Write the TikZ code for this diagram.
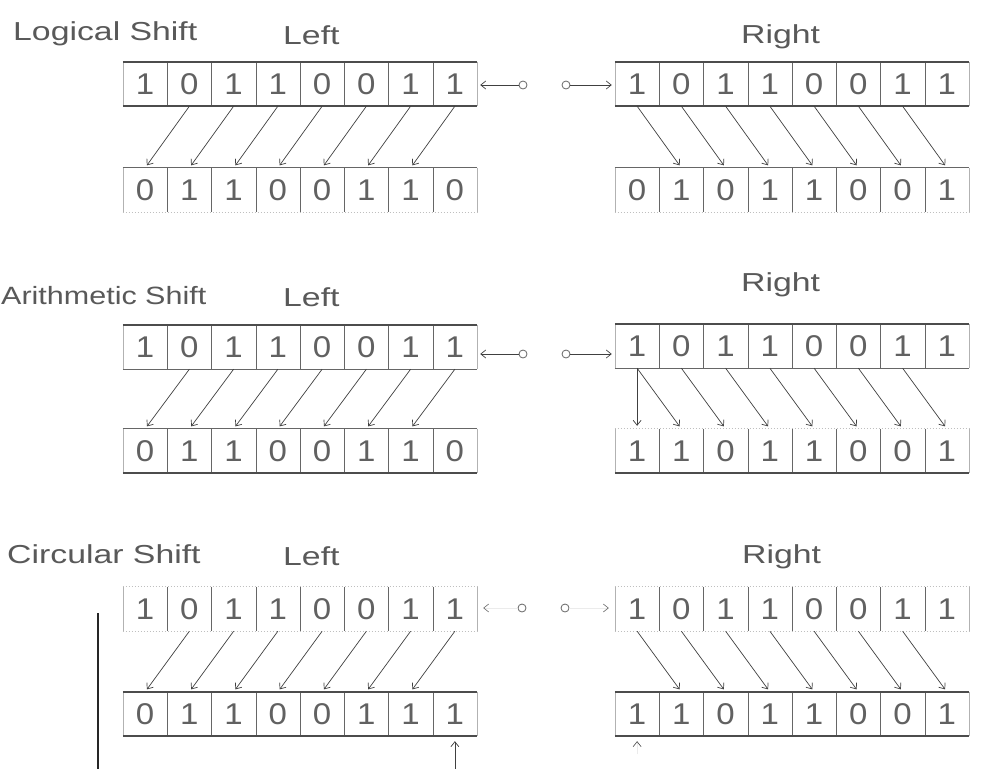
\documentclass[tikz,border=0pt]{standalone}
\usepackage{fontspec}
\setmainfont{Liberation Sans}
\newfontfamily\labfont{Liberation Sans}[FakeStretch=1.3]
\newfontfamily\narrowlabfont{Liberation Sans}[FakeStretch=1.22]
\newfontfamily\digfont{Liberation Sans}[FakeStretch=1.1]
\usetikzlibrary{arrows.meta}

\tikzset{
 cell/.style={minimum width=44.25pt, minimum height=44pt, inner sep=0pt, text=black!62, font=\digfont\fontsize{30}{30}\selectfont},
 lab/.style={anchor=base west, inner sep=0pt, text=black!65, font=\labfont\fontsize{26}{26}\selectfont},
 hthick/.style={draw=black!70, line width=1.6pt},
 hthin/.style={draw=black!60, line width=0.8pt},
 hfaint/.style={draw=black!25, line width=0.7pt, dash pattern=on 1pt off 2pt},
 div/.style={draw=black!60, line width=0.9pt},
 side/.style={draw=black!30, line width=0.6pt},
 arr/.style={draw=black!75, line width=0.7pt, -{Straight Barb[length=5pt,width=8pt]}, shorten >=3pt},
 ghostarr/.style={draw=black!8, line width=0.6pt, -{Straight Barb[length=5pt,width=8pt,color=black!60]}, shorten >=6pt},
 circ/.style={circle, draw=black!60, line width=0.8pt, minimum size=8pt, inner sep=0pt},
}

\newcommand\mkreg[6]{%
 \foreach \d [count=\i] in {#4}{\node[cell] (#1\i) at ({#2+(\i-0.5)*44.25},{#3+22}) {\d};}
 \foreach \i in {1,...,7}{\draw[div] (#1\i.north east) -- (#1\i.south east);}
 \draw[side] (#11.north west) -- (#11.south west);
 \draw[side] (#18.north east) -- (#18.south east);
 \draw[#5] (#11.north west) -- (#18.north east);
 \draw[#6] (#11.south west) -- (#18.south east);
}
\newcommand\shiftL[2]{\foreach \i in {1,...,7}{\pgfmathtruncatemacro\j{\i+1}\draw[arr] (#1\j.south) -- (#2\i.north);}}
\newcommand\shiftR[2]{\foreach \i in {1,...,7}{\pgfmathtruncatemacro\j{\i+1}\draw[arr] (#1\i.south) -- (#2\j.north);}}

\begin{document}
\begin{tikzpicture}[x=1pt,y=-1pt]
\useasboundingbox (0,0) rectangle (989,769);
\fill[white] (0,0) rectangle (989,769);

% ---------- Logical shift ----------
\node[lab] (t1) at (13,40) {Logical Shift};
\node[lab] (t2) at (283,44) {Left};
\node[lab] (t3) at (741,43) {Right};
\mkreg{LLt}{123}{62}{1,0,1,1,0,0,1,1}{hthick}{hthick}
\mkreg{LLb}{123}{168}{0,1,1,0,0,1,1,0}{hthin}{hfaint}
\mkreg{LRt}{615}{62}{1,0,1,1,0,0,1,1}{hthick}{hthick}
\mkreg{LRb}{615}{168}{0,1,0,1,1,0,0,1}{hthin}{hfaint}
\shiftL{LLt}{LLb}
\shiftR{LRt}{LRb}
\node[circ] (LLc) at (523,85) {};
\node[circ] (LRc) at (566,85) {};
\draw[arr] (LLc) -- (LLc -| LLt8.east);
\draw[arr] (LRc) -- (LRc -| LRt1.west);

% ---------- Arithmetic shift ----------
\node[lab, font=\narrowlabfont\fontsize{25}{25}\selectfont] (t4) at (1,304) {Arithmetic Shift};
\node[lab] (t5) at (283,306) {Left};
\node[lab] (t6) at (741,291) {Right};
\mkreg{ALt}{123}{325}{1,0,1,1,0,0,1,1}{hthick}{hthin}
\mkreg{ALb}{123}{429}{0,1,1,0,0,1,1,0}{hthin}{hthick}
\mkreg{ARt}{615}{324}{1,0,1,1,0,0,1,1}{hthick}{hthin}
\mkreg{ARb}{615}{429}{1,1,0,1,1,0,0,1}{hfaint}{hthick}
\shiftL{ALt}{ALb}
\shiftR{ARt}{ARb}
\draw[arr] (ARt1.south) -- (ARb1.north);
\node[circ] (ALc) at (523,354) {};
\node[circ] (ARc) at (566,354) {};
\draw[arr] (ALc) -- (ALc -| ALt8.east);
\draw[arr] (ARc) -- (ARc -| ARt1.west);

% ---------- Circular shift ----------
\node[lab] (t7) at (7,563) {Circular Shift};
\node[lab] (t8) at (283,565) {Left};
\node[lab] (t9) at (742,563) {Right};
\mkreg{CLt}{123}{587}{1,0,1,1,0,0,1,1}{hfaint}{hfaint}
\mkreg{CLb}{123}{692}{0,1,1,0,0,1,1,1}{hthick}{hthick}
\mkreg{CRt}{615}{587}{1,0,1,1,0,0,1,1}{hfaint}{hfaint}
\mkreg{CRb}{615}{692}{1,1,0,1,1,0,0,1}{hthick}{hthick}
\shiftL{CLt}{CLb}
\shiftR{CRt}{CRb}
\node[circ] (CLc) at (522,608) {};
\node[circ] (CRc) at (565,608) {};
\draw[ghostarr] (CLc) -- (CLc -| CLt8.east);
\draw[ghostarr] (CRc) -- (CRc -| CRt1.west);

\coordinate (bedge) at (0,769);
\coordinate (vtop) at (98,613);
\coordinate (vbot) at (98,769);
\draw[black!85, line width=1.6pt] (vtop) -- (vbot);
\draw[arr, shorten >=5pt] (CLb8.south |- bedge) -- (CLb8.south);
\coordinate (rupy) at (0,754);
\draw[ghostarr, -{Straight Barb[length=5pt,width=8pt,color=black!70]}, shorten >=5pt] (CRb1.south |- rupy) -- (CRb1.south);
\end{tikzpicture}
\end{document}
